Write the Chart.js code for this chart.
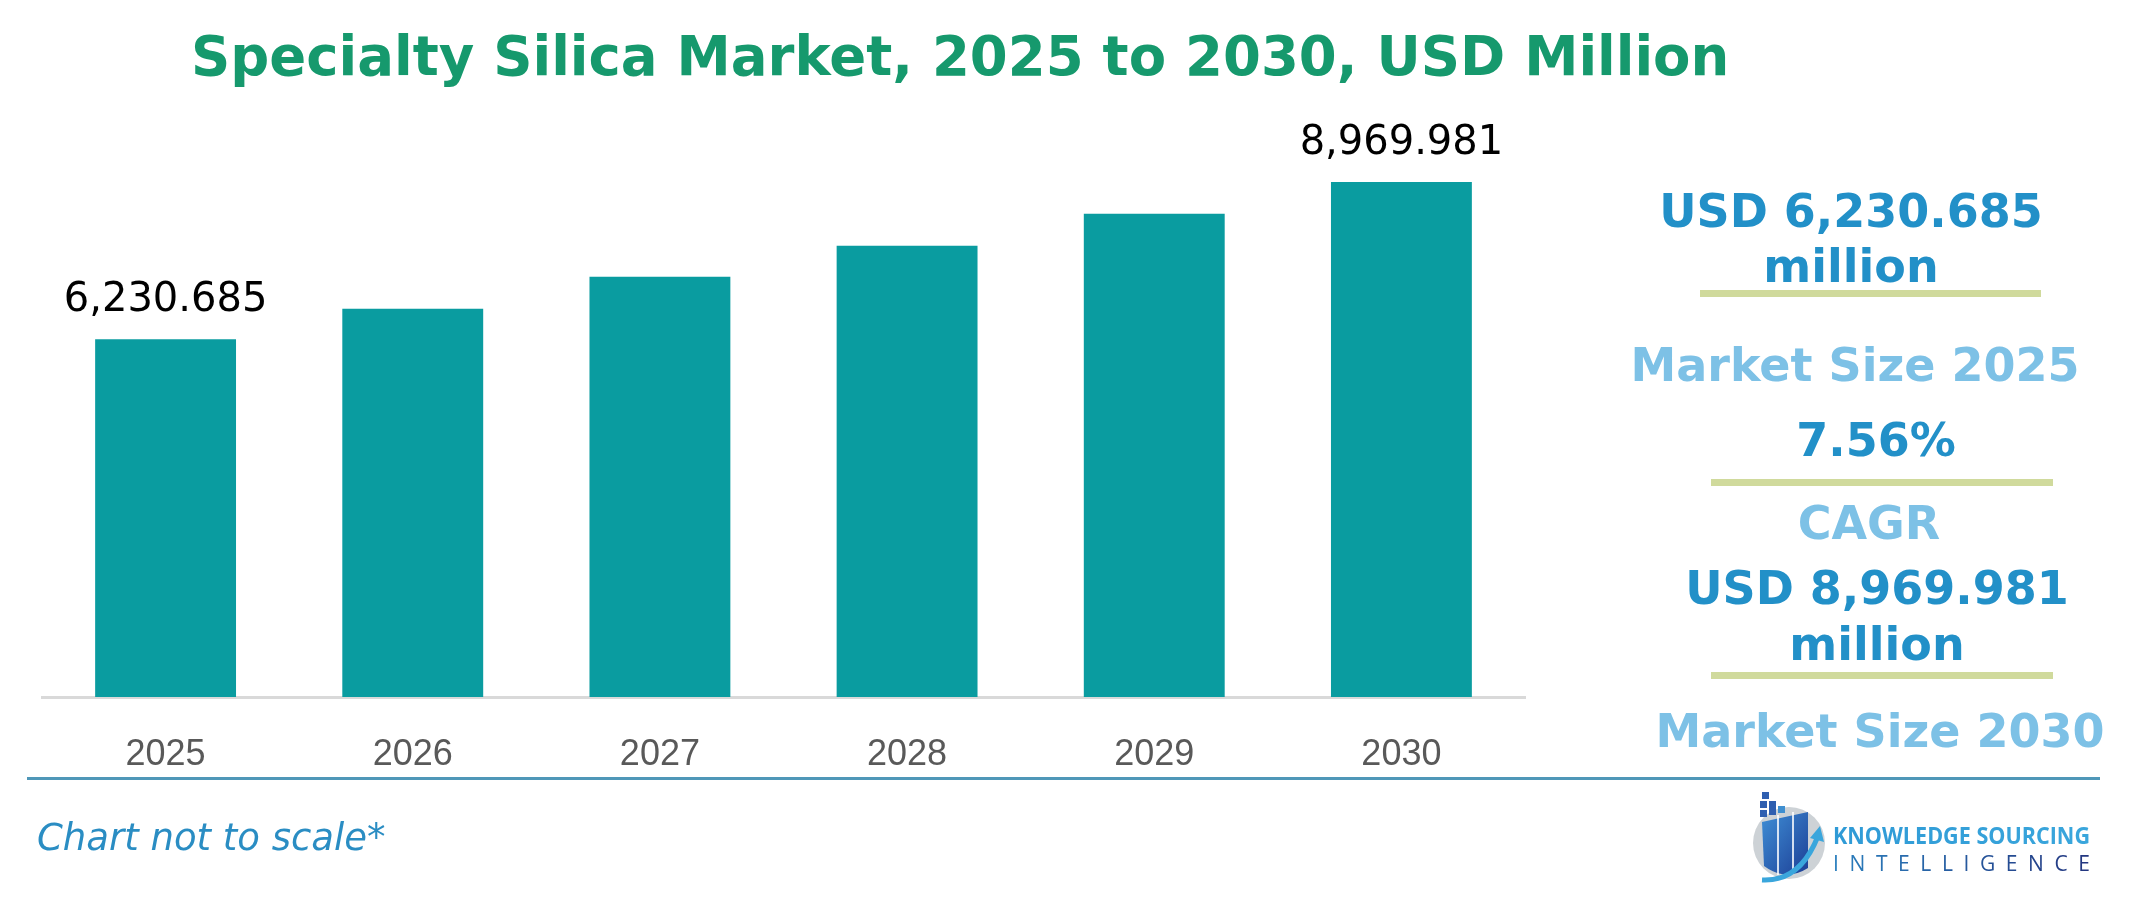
<!DOCTYPE html>
<html>
<head>
<meta charset="utf-8">
<script src="https://cdn.jsdelivr.net/npm/chart.js@4.4.1/dist/chart.umd.min.js"></script>
<style>
  html, body { margin:0; padding:0; background:#ffffff; width:2145px; height:906px; overflow:hidden; }
  #chart { position:absolute; left:0; top:0; }
  #overlay { position:absolute; left:0; top:0; pointer-events:none; }
</style>
</head>
<body>
<canvas id="chart" width="2145" height="906"></canvas>
<svg id="overlay" width="2145" height="906" xmlns="http://www.w3.org/2000/svg">
  <defs>
    <linearGradient id="lgBlue" x1="0" y1="0" x2="1" y2="1">
      <stop offset="0" stop-color="#3f8fd6"/>
      <stop offset="1" stop-color="#1d3f96"/>
    </linearGradient>
    <linearGradient id="lgText1" x1="0" y1="0" x2="1" y2="0">
      <stop offset="0" stop-color="#2f9ad6"/>
      <stop offset="1" stop-color="#3aa6dc"/>
    </linearGradient>
    <linearGradient id="lgText2" x1="0" y1="0" x2="1" y2="0">
      <stop offset="0" stop-color="#2a7fbe"/>
      <stop offset="1" stop-color="#23357f"/>
    </linearGradient>
  </defs>
  <!-- Title -->
  <text x="191" y="75" font-family="DejaVu Sans" font-weight="bold" font-size="54.5" fill="#16996d">Specialty Silica Market, 2025 to 2030, USD Million</text>

  <!-- Right panel -->
  <g font-family="DejaVu Sans" font-weight="bold" font-size="46" text-anchor="middle">
    <text x="1851" y="227" fill="#2290c8">USD 6,230.685</text>
    <text x="1851" y="282" fill="#2290c8">million</text>
    <text x="1855" y="381" fill="#7dc1e6">Market Size 2025</text>
    <text x="1876" y="456" fill="#2290c8">7.56%</text>
    <text x="1869" y="539" fill="#7dc1e6">CAGR</text>
    <text x="1877" y="604" fill="#2290c8">USD 8,969.981</text>
    <text x="1877" y="660" fill="#2290c8">million</text>
    <text x="1880" y="747" fill="#7dc1e6">Market Size 2030</text>
  </g>
  <rect x="1700" y="290" width="341" height="7" fill="#d0da9c"/>
  <rect x="1711" y="479" width="342" height="7" fill="#d0da9c"/>
  <rect x="1711" y="672" width="342" height="7" fill="#d0da9c"/>

  <!-- Bottom rule -->
  <rect x="27" y="777" width="2073" height="3" fill="#4f97b8"/>

  <!-- Footnote -->
  <text x="37" y="850" font-family="DejaVu Sans" font-style="italic" font-size="37" fill="#2a8dc3">Chart not to scale*</text>

  <!-- Logo -->
  <circle cx="1789" cy="843" r="36" fill="#cdd2d6"/>
  <path d="M1762,822 L1808,812 L1808,868 Q1786,882 1764,866 Z" fill="url(#lgBlue)"/>
  <rect x="1777" y="815" width="2" height="60" fill="#ffffff" opacity="0.8"/>
  <rect x="1792" y="812" width="2" height="62" fill="#ffffff" opacity="0.8"/>
  <g fill="#2f5fb0">
    <rect x="1762" y="792" width="7" height="7"/>
    <rect x="1760" y="801" width="7" height="7"/><rect x="1769" y="801" width="7" height="7"/>
    <rect x="1760" y="810" width="7" height="7"/><rect x="1769" y="808" width="7" height="7"/><rect x="1778" y="806" width="7" height="7" fill="#3f8fd0"/>
  </g>
  <path d="M1762,880 Q1800,882 1818,836" stroke="#3aa6dc" stroke-width="5" fill="none"/>
  <path d="M1810,838 L1820,826 L1824,842 Z" fill="#3aa6dc"/>
  <text x="1833" y="844" font-family="Open Sans" font-weight="bold" font-size="24" fill="url(#lgText1)" textLength="257" lengthAdjust="spacingAndGlyphs">KNOWLEDGE SOURCING</text>
  <text x="1833" y="871" font-family="Open Sans" font-size="21" fill="url(#lgText2)" textLength="257" lengthAdjust="spacing">INTELLIGENCE</text>
</svg>
<script>
const categories = ['2025', '2026', '2027', '2028', '2029', '2030'];
const marketValues = [6230.685, 6765, 7320, 7860, 8420, 8969.981];
const labeledIndexes = [0, 5];
const yMax = 10400;

function formatValue(v) {
  return v.toLocaleString('en-US', { minimumFractionDigits: 3, maximumFractionDigits: 3 });
}

const valueLabelPlugin = {
  id: 'valueLabels',
  afterDatasetsDraw(chart) {
    const ctx = chart.ctx;
    const meta = chart.getDatasetMeta(0);
    ctx.save();
    ctx.font = '40px "DejaVu Sans"';
    ctx.fillStyle = '#000000';
    ctx.textAlign = 'center';
    ctx.textBaseline = 'alphabetic';
    labeledIndexes.forEach(i => {
      const bar = meta.data[i];
      ctx.fillText(formatValue(marketValues[i]), bar.x, bar.y - 28);
    });
    ctx.restore();
  }
};

new Chart(document.getElementById('chart'), {
  type: 'bar',
  data: {
    labels: categories,
    datasets: [{
      data: marketValues,
      backgroundColor: '#0a9ca0',
      borderWidth: 0,
      barPercentage: 0.57,
      categoryPercentage: 1.0
    }]
  },
  options: {
    responsive: false,
    animation: false,
    devicePixelRatio: 1,
    layout: { padding: { left: 42, right: 620, top: 100, bottom: 109 } },
    plugins: { legend: { display: false }, tooltip: { enabled: false }, title: { display: false } },
    scales: {
      x: {
        grid: { display: false, drawTicks: false },
        border: { display: true, color: '#d9d9d9', width: 3 },
        ticks: { color: '#595959', font: { family: 'Liberation Sans', size: 36 }, padding: 36 },
        afterFit(scale) { scale.height = 100; }
      },
      y: { display: false, min: 0, max: yMax }
    }
  },
  plugins: [valueLabelPlugin]
});
</script>
</body>
</html>
